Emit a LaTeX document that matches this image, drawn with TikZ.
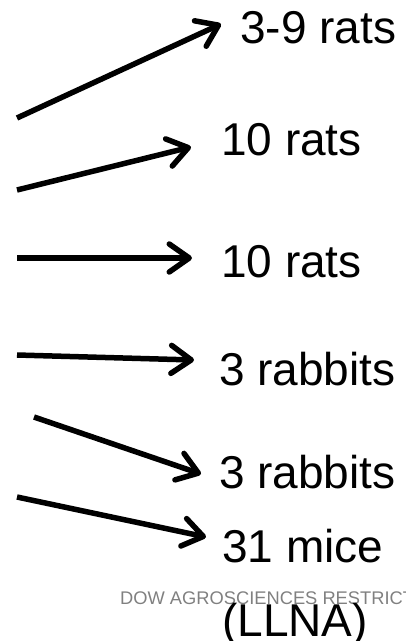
\documentclass[tikz,border=0pt]{standalone}
\usepackage{fontspec}
\setmainfont{Liberation Sans}
\usetikzlibrary{arrows.meta}
\begin{document}
\begin{tikzpicture}[x=1pt,y=-1pt,
  lbl/.style={anchor=base west,inner sep=0pt,font=\fontsize{46}{50}\selectfont},
  wm/.style={anchor=base west,inner sep=0pt,text=black!50,font=\fontsize{18.3}{20}\selectfont},
  arr/.style={line width=5.5pt,-{Straight Barb[length=20pt,width=28pt,line width=5.5pt,round]}}]
\useasboundingbox (0,0) rectangle (405,641);
\clip (0,0) rectangle (405,641);
% labels
\node[lbl] (t1) at (240,43) {3-9 rats};
\node[lbl] (t2) at (221,155) {10 rats};
\node[lbl] (t3) at (221,277) {10 rats};
\node[lbl] (t4) at (219,385) {3 rabbits};
\node[lbl] (t5) at (219,488) {3 rabbits};
\node[lbl] (t6) at (222,562) {31 mice};
\node[wm] (w) at (120,604) {DOW AGROSCIENCES RESTRICTED};
\node[lbl] (t7) at (222,636) {(LLNA)};
% arrows
\coordinate (s1) at (17,118);  \coordinate (e1) at (221,24);
\coordinate (s2) at (17,190);  \coordinate (e2) at (191,147);
\coordinate (s3) at (17,258);  \coordinate (e3) at (192,258);
\coordinate (s4) at (17,355);  \coordinate (e4) at (194,360);
\coordinate (s5) at (34,417);  \coordinate (e5) at (201,474);
\coordinate (s6) at (17,497);  \coordinate (e6) at (206,537);
\draw[arr] (s1) -- (e1);
\draw[arr] (s2) -- (e2);
\draw[arr] (s3) -- (e3);
\draw[arr] (s4) -- (e4);
\draw[arr] (s5) -- (e5);
\draw[arr] (s6) -- (e6);
\end{tikzpicture}
\end{document}
